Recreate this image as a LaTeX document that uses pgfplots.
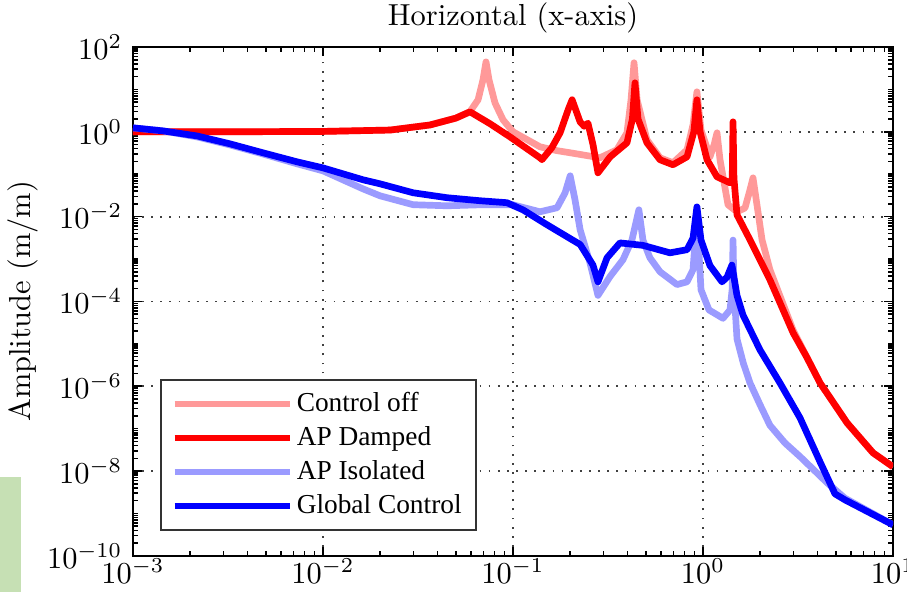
\documentclass[border=0pt]{standalone}
\usepackage{fontspec}
\usepackage{pgfplots}
\pgfplotsset{compat=1.18}
\newfontfamily\legfont{Liberation Serif}
\definecolor{ctrloff}{RGB}{255,153,153}
\definecolor{apiso}{RGB}{155,155,255}
\definecolor{greenbox}{RGB}{198,224,180}

\begin{document}
\begin{tikzpicture}
\begin{axis}[
  name=ax,
  scale only axis,
  width=250pt, height=167.4pt,
  xmode=log, ymode=log,
  xmin=1e-3, xmax=10, ymin=1e-10, ymax=1e2,
  xtick={1e-3,1e-2,1e-1,1,10},
  ytick={1e-10,1e-8,1e-6,1e-4,1e-2,1,1e2},
  minor ytick={2e-10,3e-10,4e-10,5e-10,6e-10,7e-10,8e-10,9e-10,1e-9,
    2e-9,3e-9,4e-9,5e-9,6e-9,7e-9,8e-9,9e-9,
    2e-8,3e-8,4e-8,5e-8,6e-8,7e-8,8e-8,9e-8,1e-7,
    2e-7,3e-7,4e-7,5e-7,6e-7,7e-7,8e-7,9e-7,
    2e-6,3e-6,4e-6,5e-6,6e-6,7e-6,8e-6,9e-6,1e-5,
    2e-5,3e-5,4e-5,5e-5,6e-5,7e-5,8e-5,9e-5,
    2e-4,3e-4,4e-4,5e-4,6e-4,7e-4,8e-4,9e-4,1e-3,
    2e-3,3e-3,4e-3,5e-3,6e-3,7e-3,8e-3,9e-3,
    2e-2,3e-2,4e-2,5e-2,6e-2,7e-2,8e-2,9e-2,1e-1,
    2e-1,3e-1,4e-1,5e-1,6e-1,7e-1,8e-1,9e-1,
    2,3,4,5,6,7,8,9,10,20,30,40,50,60,70,80,90},
  grid=major,
  major grid style={black!75, line width=0.6pt, dash pattern=on 0.6pt off 2.4pt},
  axis line style={line width=0.6pt},
  major tick length=3pt, minor tick length=1.6pt,
  every tick/.style={black, line width=0.5pt},
  xticklabel style={yshift=2.5pt},
  title={Horizontal (x-axis)},
  title style={yshift=-5pt},
  ylabel={Amplitude (m/m)},
  ylabel shift=-4pt,
  legend style={at={(0.0355,0.049)}, anchor=south west, draw=black!80, line width=0.6pt,
    font=\legfont\fontsize{9}{10}\selectfont, inner xsep=3.5pt, inner ysep=2.3pt, row sep=0pt,
    nodes={inner sep=1.2pt, text height=6.8pt, text depth=2pt}},
  legend cell align=left,
  legend image code/.code={\draw[#1, line width=2pt, line cap=butt] (0pt,0pt) -- (38pt,0pt);},
  every axis plot/.append style={line width=2.2pt, line join=round, no markers},
]
\addplot[ctrloff] coordinates {
(0.001,1.0) (0.003,1.0) (0.01,1.02) (0.0226,1.1) (0.0366,1.45) (0.05,2.1) (0.0594,3.0)
(0.0655,5.7) (0.0695,16.8) (0.0721,44.6) (0.0748,16.8) (0.0804,4.8) (0.0886,1.92)
(0.1,1.0) (0.1387,0.443) (0.17,0.36) (0.2,0.32) (0.287,0.244) (0.352,0.376) (0.398,0.947)
(0.418,5.7) (0.4335,42.5) (0.45,5.7) (0.507,0.65) (0.594,0.244) (0.695,0.186)
(0.824,0.376) (0.886,1.46) (0.929,8.78) (0.976,1.11) (1.088,0.257) (1.143,0.49)
(1.185,0.947) (1.229,0.219) (1.354,0.019) (1.51,0.013) (1.663,0.016) (1.767,0.0428)
(1.833,0.0822) (1.923,0.019) (2.045,0.00284) (2.25,5.6e-4) (2.98,2.1e-5) (4.13,1.2e-6)
(5.73,1.37e-7) (7.85,2.69e-8) (10,1.26e-8)
};
\addlegendentry{Control off}
\addplot[red] coordinates {
(0.001,1.0) (0.003,1.0) (0.01,1.02) (0.0226,1.1) (0.0366,1.45) (0.05,2.1) (0.0594,2.96)
(0.0757,1.55) (0.0964,0.76) (0.1387,0.244) (0.142,0.22) (0.16,0.42) (0.177,0.95)
(0.195,3.3) (0.2047,5.7) (0.2256,1.7) (0.237,1.35) (0.248,1.6) (0.2636,0.5) (0.280,0.108)
(0.3246,0.257) (0.398,0.55) (0.425,2.0) (0.4385,14.3) (0.455,2.0) (0.507,0.55)
(0.594,0.219) (0.695,0.167) (0.824,0.257) (0.895,1.0) (0.929,5.69) (0.965,1.0)
(1.05,0.219) (1.185,0.0868) (1.387,0.0627) (1.425,0.08) (1.439,1.72) (1.455,0.08)
(1.51,0.011) (1.767,0.00284) (2.25,3.23e-4) (2.98,1.82e-5) (3.52,4.8e-6) (4.13,1.2e-6)
(5.73,1.37e-7) (7.85,2.69e-8) (10,1.26e-8)
};
\addlegendentry{AP Damped}
\addplot[apiso] coordinates {
(0.001,1.24) (0.00144,1.05) (0.00217,0.76) (0.00324,0.49) (0.00483,0.30) (0.0073,0.176)
(0.01,0.12) (0.01626,0.045) (0.01995,0.031) (0.0298,0.0191) (0.045,0.018) (0.067,0.019)
(0.1,0.019) (0.1387,0.013) (0.1706,0.0162) (0.188,0.0364) (0.2,0.0917) (0.212,0.0249)
(0.2256,4.9e-3) (0.254,8.2e-4) (0.280,1.39e-4) (0.3246,3.9e-4) (0.379,9.6e-4)
(0.4226,2.8e-3) (0.4597,0.0145) (0.483,2.8e-3) (0.5256,1.07e-3) (0.594,5.0e-4)
(0.7296,2.5e-4) (0.824,2.9e-4) (0.886,5.6e-4) (0.929,0.011) (0.976,1.88e-4)
(1.075,6.3e-5) (1.274,4.0e-5) (1.387,6.3e-5) (1.425,2e-4) (1.439,2.8e-3) (1.455,2e-4)
(1.51,1.3e-5) (1.63,3.5e-6) (1.767,1.2e-6) (2.0,3.6e-7) (2.25,1.2e-7) (2.7,4.6e-8)
(3.24,2.2e-8) (4.5,5.3e-9) (5.58,2.3e-9) (10,5.4e-10)
};
\addlegendentry{AP Isolated}
\addplot[blue] coordinates {
(0.001,1.24) (0.00144,1.05) (0.00217,0.80) (0.00324,0.52) (0.00483,0.32) (0.0073,0.196)
(0.01,0.141) (0.01626,0.0738) (0.01995,0.0594) (0.0298,0.0365) (0.045,0.0279)
(0.067,0.0237) (0.0929,0.0213) (0.113,0.0144) (0.151,0.00643) (0.2256,0.0022)
(0.2636,7.2e-4) (0.280,2.9e-4) (0.3126,1.07e-3) (0.3656,2.4e-3) (0.483,2.1e-3)
(0.67,1.4e-3) (0.824,1.66e-3) (0.886,3.1e-3) (0.929,0.017) (0.976,2.8e-3)
(1.088,7.0e-4) (1.259,2.9e-4) (1.337,3.7e-4) (1.42,7.2e-4) (1.51,1.38e-4)
(1.623,4.8e-5) (1.995,7.2e-6) (2.54,1.2e-6) (3.24,1.8e-7) (4.13,1.65e-8) (4.95,2.9e-9)
(5.58,2.1e-9) (10,5.4e-10)
};
\addlegendentry{Global Control}
\end{axis}
\pgfresetboundingbox
\path[use as bounding box] ([xshift=-43.75pt,yshift=-11.84pt]ax.south west) rectangle ([xshift=4.6pt,yshift=15.46pt]ax.north east);
\fill[greenbox] ([xshift=-43.75pt,yshift=-11.84pt]ax.south west) rectangle ++(6.9pt,37.8pt);
\end{tikzpicture}
\end{document}
